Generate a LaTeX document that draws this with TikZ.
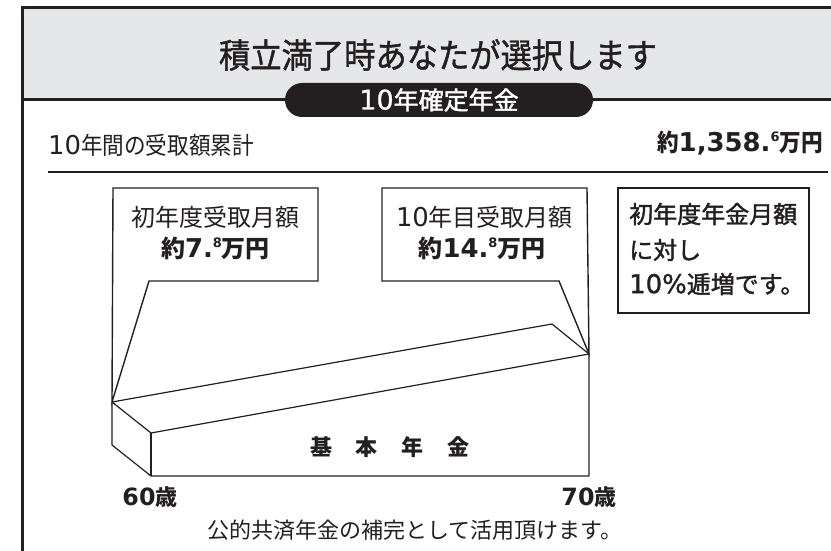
\documentclass[tikz,border=0pt]{standalone}
\usepackage{fontspec}
\usepackage{graphicx}
\setmainfont{Noto Sans CJK JP}
\newfontfamily\jpc[FakeStretch=0.92,FakeBold=1.2]{Noto Sans CJK JP}
\newfontfamily\jpn[FakeStretch=0.9]{Noto Sans CJK JP}
\newfontfamily\jpm[FakeBold=1.6]{Noto Sans CJK JP}
\newfontfamily\dig{DejaVu Sans}
\newfontfamily\digm[FakeBold=1.2]{DejaVu Sans}
\definecolor{ink}{HTML}{231F20}
\definecolor{hdr}{HTML}{E6E7E8}
\newcommand\dg[1]{{\dig\scalebox{1.08}{#1}}}
\newcommand\dgm[1]{{\digm\scalebox{1.08}{#1}}}
\newcommand\supnum[1]{\raisebox{0.42em}{\fontsize{13}{13}\selectfont\dig #1}}
\newcommand\fs[1]{\fontsize{#1}{#1}\selectfont}
\begin{document}
\begin{tikzpicture}[x=1pt,y=-1pt,
  t/.style={inner sep=0pt, text=ink},
  frame/.style={draw=ink, line width=3pt},
  cbox/.style={draw=ink, line width=1.4pt, line join=miter},
  solid3d/.style={draw=ink, line width=1.2pt, line join=round},
  pill/.style={fill=ink, rounded corners=17pt, minimum width=308pt, minimum height=34pt, inner sep=0pt, text=white}
]
\useasboundingbox (0,0) rectangle (831,551);
\clip (0,0) rectangle (831,551);
\fill[white] (0,0) rectangle (831,551);

% header
\fill[hdr] (22,8) rectangle (840,100);
\coordinate (fbot) at (22,560);
\coordinate (ftl) at (22,8);
\coordinate (ftr) at (840,8);
\draw[frame] (fbot) -- (ftl) -- (ftr);
\coordinate (hl) at (22,100);
\coordinate (hr) at (840,100);
\draw[draw=ink, line width=3pt] (hl) -- (hr);

\node[t] (title) at (438,55) {\jpc\fs{34}積立満了時あなたが選択します};
\node[pill] (plan) at (439,100) {\jpm\fs{25}\dgm{10}年確定年金};

% summary row
\node[t, anchor=west] (sumlabel) at (48,145) {\jpn\fs{24}\dg{10}年間の受取額累計};
\node[t, anchor=east] (sumval) at (823,143) {\jpn\fs{24}\bfseries 約\dg{\bfseries 1,358.}\supnum{\bfseries 6}万円};
\coordinate (rl) at (48,172);
\coordinate (rr) at (828,172);
\draw[draw=ink, line width=2pt] (rl) -- (rr);

% 3D block vertices
\coordinate (A) at (112,402);
\coordinate (B) at (151,433);
\coordinate (D) at (112,445);
\coordinate (E) at (151,476);
\coordinate (F) at (589,476);
\coordinate (C) at (589,354);
\coordinate (G) at (552,324);

% callout 1
\coordinate (b1tl) at (113,188);
\coordinate (b1tr) at (318,188);
\coordinate (b1br) at (318,281);
\coordinate (b1bp) at (149,281);
\draw[cbox] (b1tl) -- (b1tr) -- (b1br) -- (b1bp) -- (A) -- cycle;
\node[t] (c1a) at (215.5,217) {\fs{24}初年度受取月額};
\node[t] (c1b) at (215.5,248) {\fs{24}\bfseries 約\dg{\bfseries 7.}\supnum{\bfseries 8}万円};

% callout 2
\coordinate (b2tl) at (382,188);
\coordinate (b2tr) at (587,188);
\coordinate (b2bp) at (559,281);
\coordinate (b2bl) at (382,281);
\draw[cbox] (b2tl) -- (b2tr) -- (C) -- (b2bp) -- (b2bl) -- cycle;
\node[t] (c2a) at (484.5,217) {\fs{24}\dg{10}年目受取月額};
\node[t] (c2b) at (482,248) {\fs{24}\bfseries 約\dg{\bfseries 14.}\supnum{\bfseries 8}万円};

% box 3
\node[cbox, minimum width=191pt, minimum height=125pt, inner sep=0pt] (b3) at (713.5,250.5) {};
\node[t, anchor=west] (b3a) at (629,214) {\jpm\fs{24}初年度年金月額};
\node[t, anchor=west] (b3b) at (629,250) {\jpm\fs{24}に対し};
\node[t, anchor=west] (b3c) at (629,284) {\jpm\fs{24}\dgm{10\%}逓増です。};

% 3D block
\draw[solid3d] (A) -- (G) -- (C) -- (F) -- (E) -- (D) -- cycle;
\draw[solid3d] (A) -- (B) -- (C);
\draw[solid3d] (B) -- (E);
\node[t] (kihon) at (390,447) {\fs{22}\bfseries 基\hspace{24pt}本\hspace{24pt}年\hspace{24pt}金};

\node[t] (age60) at (150,497) {\fs{22}\bfseries \dg{\bfseries 60}歳};
\node[t] (age70) at (589,497) {\fs{22}\bfseries \dg{\bfseries 70}歳};

\node[t] (note) at (415,530) {\fs{22}公的共済年金の補完として活用頂けます。};
\end{tikzpicture}
\end{document}
